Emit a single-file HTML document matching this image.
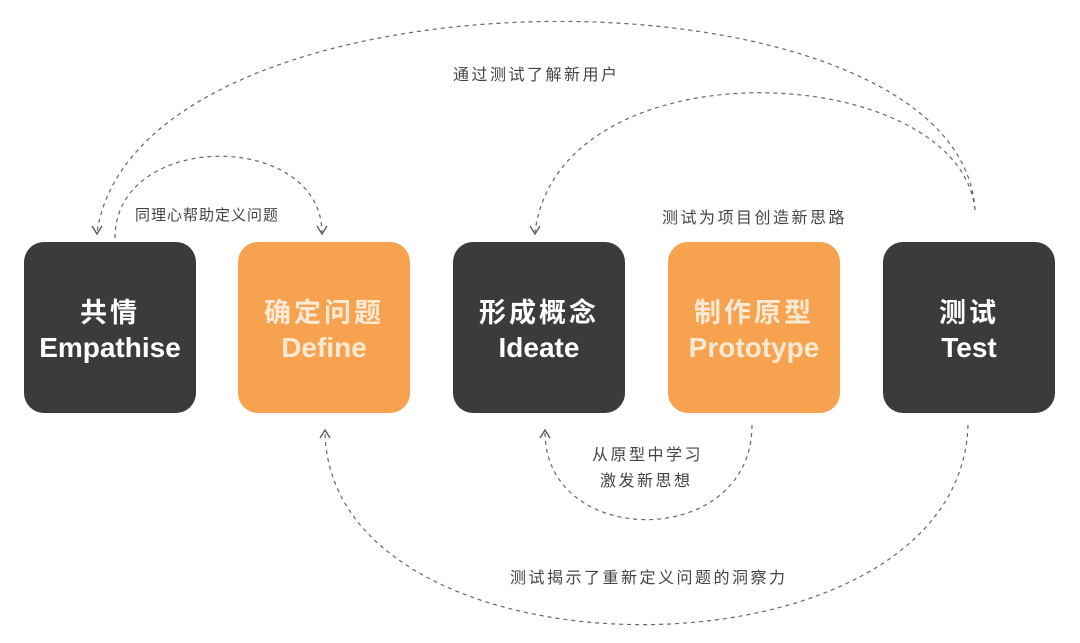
<!DOCTYPE html>
<html><head><meta charset="utf-8"><style>
body{margin:0;width:1080px;height:643px;background:#fff;overflow:hidden;position:relative;font-family:"Liberation Sans","Noto Sans CJK SC",sans-serif}
.b{position:absolute;top:242px;width:172px;height:171px;border-radius:20px;background:#3b3b3b;color:#fff;text-align:center;font-weight:bold;box-sizing:border-box;padding-top:54px}
.b.o{background:#f6a24e;color:#fbe9d4}
.b .c{font-size:27px;line-height:34px;letter-spacing:3px}
.b .e{font-size:28px;line-height:36px}
.l{position:absolute;font-size:16px;color:#444;white-space:nowrap;letter-spacing:2.5px}
</style></head><body>
<svg width="1080" height="643" style="position:absolute;left:0;top:0" fill="none" stroke="#666" stroke-width="1.2" stroke-dasharray="4 4">
<path d="M975,210 C960,-45 140,-45 97,232"/>
<path d="M115,238 C115,130 320,130 322,232"/>
<path d="M975,210 C960,60 560,40 535,232"/>
<path d="M752,425 C752,550 545,550 545,432"/>
<path d="M968,425 C960,690 330,690 325,432"/>
<g stroke-dasharray="none" stroke="#555" stroke-width="1.3">
<polyline points="92,226 97,234 102,226"/>
<polyline points="317,226 322,234 327,226"/>
<polyline points="530,226 535,234 540,226"/>
<polyline points="540,438 545,430 550,438"/>
<polyline points="320,438 325,430 330,438"/>
</g>
</svg>
<div class="b" style="left:24px"><div class="c">共情</div><div class="e">Empathise</div></div>
<div class="b o" style="left:238px"><div class="c">确定问题</div><div class="e">Define</div></div>
<div class="b" style="left:453px"><div class="c">形成概念</div><div class="e">Ideate</div></div>
<div class="b o" style="left:668px"><div class="c">制作原型</div><div class="e">Prototype</div></div>
<div class="b" style="left:883px"><div class="c">测试</div><div class="e">Test</div></div>
<div class="l" style="left:453px;top:61px">通过测试了解新用户</div>
<div class="l" style="left:135px;top:204px;font-size:15px;letter-spacing:1px">同理心帮助定义问题</div>
<div class="l" style="left:662px;top:204px">测试为项目创造新思路</div>
<div class="l" style="left:592px;top:441px">从原型中学习</div>
<div class="l" style="left:600px;top:467px">激发新思想</div>
<div class="l" style="left:510px;top:564px">测试揭示了重新定义问题的洞察力</div>
</body></html>
